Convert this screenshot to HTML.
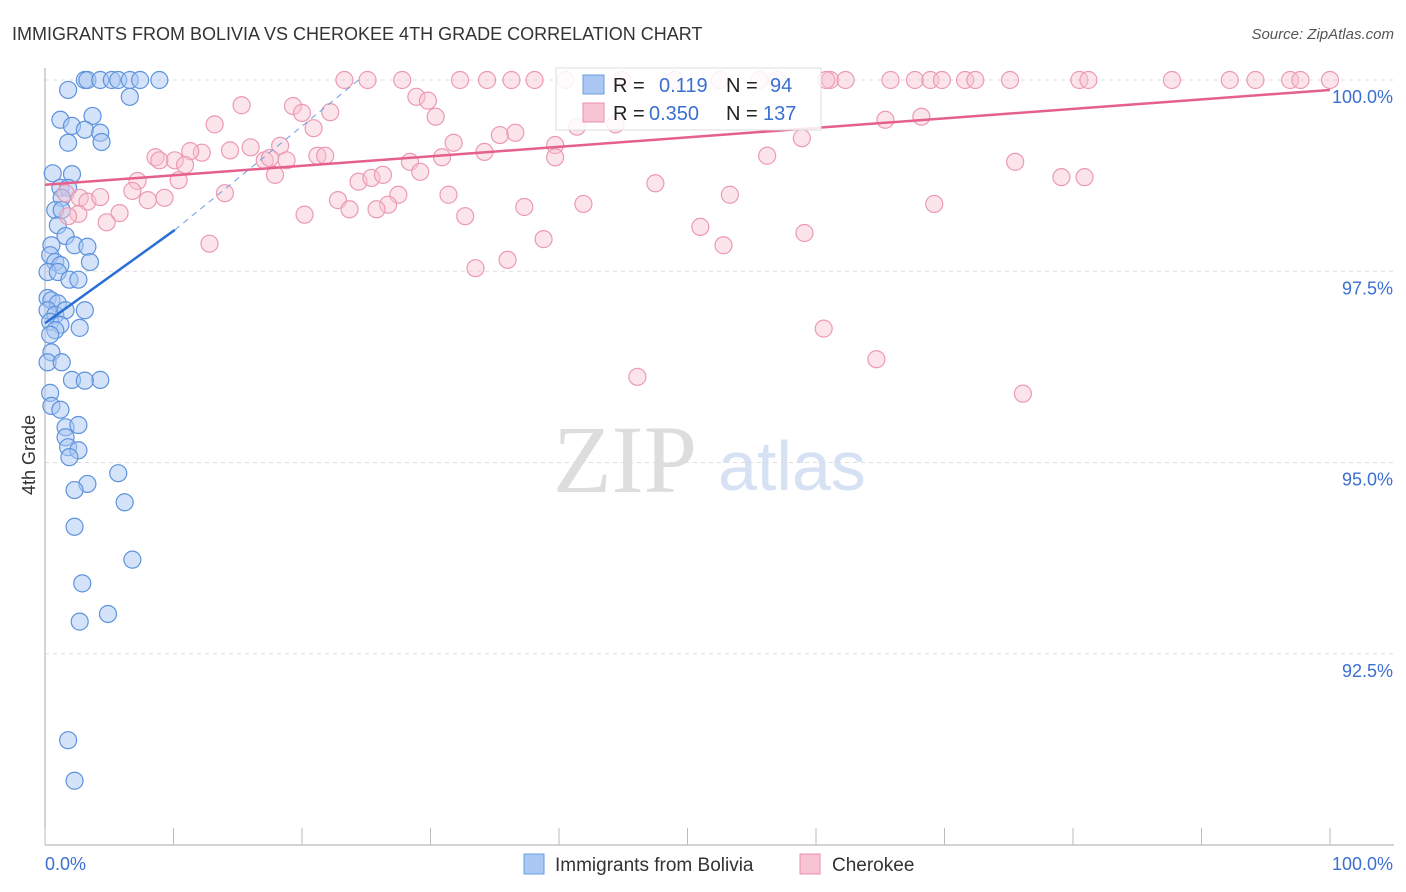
<!DOCTYPE html>
<html><head><meta charset="utf-8"><style>
body{margin:0;background:#fff;font-family:"Liberation Sans",sans-serif}
svg{display:block}
</style></head><body>
<svg id="chart" width="1406" height="892">
<text x="12" y="40" font-size="18" fill="#333">IMMIGRANTS FROM BOLIVIA VS CHEROKEE 4TH GRADE CORRELATION CHART</text>
<text x="1394" y="39" font-size="15" fill="#555" font-style="italic" text-anchor="end">Source: ZipAtlas.com</text>
<text x="35" y="455" font-size="18" fill="#333" transform="rotate(-90 35 455)" text-anchor="middle">4th Grade</text>
<g><text x="553" y="492" font-family="Liberation Serif,serif" font-size="96" fill="#ddd">ZIP</text><text x="718" y="490" font-size="70" fill="#d6e2f3">atlas</text></g>
<g id="grid"></g><g id="axes"></g><g id="pts"></g><g id="lines"></g>
<g>
<rect x="556" y="68" width="265" height="62" fill="#fff" fill-opacity="0.85" stroke="#ddd"/>
<rect x="583" y="75" width="21" height="19" fill="#aac8f3" stroke="#6b9de0"/>
<rect x="583" y="103" width="21" height="19" fill="#f8c3d3" stroke="#ec8fab"/>
<text x="613" y="92" font-size="20" fill="#222">R = </text><text x="659" y="92" font-size="20" fill="#3b6fd1">0.119</text><text x="726" y="92" font-size="20" fill="#222">N = </text><text x="770" y="92" font-size="20" fill="#3b6fd1">94</text>
<text x="613" y="120" font-size="20" fill="#222">R = </text><text x="649" y="120" font-size="20" fill="#3b6fd1">0.350</text><text x="726" y="120" font-size="20" fill="#222">N = </text><text x="763" y="120" font-size="20" fill="#3b6fd1">137</text>
</g>
<g>
<rect x="524" y="854" width="20" height="20" fill="#aac8f3" stroke="#6b9de0"/><text x="555" y="871" font-size="19" fill="#333">Immigrants from Bolivia</text>
<rect x="800" y="854" width="20" height="20" fill="#f8c3d3" stroke="#ec8fab"/><text x="832" y="871" font-size="19" fill="#333">Cherokee</text>
</g>
</svg>
<script>
const yTicks=[100,97.5,95,92.5];
const yTickLabels=["100.0%","97.5%","95.0%","92.5%"];
const xTickCount=10;
const blueX=[3.1,3.3,4.3,5.2,5.7,6.6,7.4,8.9,1.8,6.6,1.2,3.7,2.1,3.1,4.3,1.8,4.4,0.6,2.1,1.2,1.8,1.3,0.8,1.3,1.0,1.6,0.5,2.3,3.3,0.4,0.8,1.2,3.5,0.2,1.0,1.9,2.6,0.2,0.5,1.0,0.2,0.8,1.6,3.1,0.4,1.2,2.7,0.8,0.4,0.5,0.2,1.3,2.1,4.3,3.1,0.4,0.5,1.2,1.6,2.6,1.6,1.8,2.6,1.9,5.7,3.3,2.3,6.2,2.3,6.8,2.9,4.9,2.7,1.8,2.3];
const blueY=[100,100,100,100,100,100,100,100,99.87,99.78,99.48,99.53,99.40,99.35,99.31,99.18,99.19,98.78,98.77,98.59,98.59,98.46,98.30,98.30,98.10,97.96,97.84,97.84,97.82,97.71,97.62,97.58,97.62,97.49,97.49,97.39,97.39,97.15,97.12,97.08,96.99,96.93,96.99,96.99,96.84,96.80,96.76,96.73,96.67,96.44,96.31,96.31,96.08,96.08,96.07,95.91,95.74,95.69,95.46,95.49,95.33,95.20,95.16,95.07,94.86,94.72,94.64,94.48,94.16,93.73,93.42,93.02,92.92,91.37,90.84];
const pinkX=[23.3,25.1,27.8,32.3,34.4,36.3,38.1,40.5,44.9,49.0,52.5,55.6,57.0,61.1,62.3,65.8,67.7,68.9,69.8,71.6,72.4,75.1,80.5,81.2,87.7,92.2,94.2,96.9,97.7,100,60.8,15.3,19.3,20.0,22.2,28.9,29.8,30.4,13.2,20.9,35.4,36.6,41.4,44.4,18.3,31.8,34.2,39.7,58.9,65.4,68.2,8.6,10.1,12.2,11.3,14.4,16.0,17.1,17.5,18.8,21.2,21.8,30.9,39.7,56.2,28.4,10.9,17.9,10.4,8.9,7.2,1.6,2.7,3.3,4.3,2.6,1.8,5.8,4.8,6.8,8.0,9.3,14.0,22.8,24.4,25.4,26.3,27.5,29.2,31.4,26.7,20.2,23.7,25.8,32.7,37.3,41.9,47.5,53.3,69.2,75.5,79.1,80.9,51.0,59.1,38.8,12.8,52.8,36.0,33.5,60.6,64.7,46.1,76.1];
const pinkY=[100,100,100,100,100,100,100,100,100,100,100,100,100,100,100,100,100,100,100,100,100,100,100,100,100,100,100,100,100,100,100,99.67,99.66,99.57,99.58,99.78,99.73,99.52,99.42,99.37,99.28,99.31,99.39,99.42,99.14,99.18,99.06,99.15,99.24,99.48,99.52,98.99,98.95,99.05,99.07,99.08,99.12,98.95,98.98,98.95,99.01,99.01,98.99,98.99,99.01,98.93,98.89,98.76,98.69,98.95,98.68,98.52,98.46,98.41,98.47,98.25,98.22,98.26,98.14,98.55,98.43,98.46,98.52,98.43,98.67,98.72,98.76,98.50,98.80,98.50,98.37,98.24,98.31,98.31,98.22,98.34,98.38,98.65,98.50,98.38,98.93,98.73,98.73,98.08,98.00,97.92,97.86,97.84,97.65,97.54,96.75,96.35,96.12,95.90];
const pinkTrend=[[0,98.63],[100,99.87]];
const blueTrendSolid=[[0,96.82],[10.1,98.04]];
const blueTrendDash=[[10.1,98.04],[24.4,100]];
const NS="http://www.w3.org/2000/svg";
const xs=v=>45+v*12.85, ys=v=>80+(100-v)*76.5;
function mk(tag,attrs,parent){const e=document.createElementNS(NS,tag);for(const k in attrs)e.setAttribute(k,attrs[k]);document.getElementById(parent).appendChild(e);return e;}
yTicks.forEach((t,i)=>{
 const g=mk('line',{x1:45,x2:1394,y1:ys(t),y2:ys(t),stroke:'#ddd','stroke-dasharray':'4,4'},'grid');
 
 
 const l=mk('text',{x:1393,y:ys(t)+23,'font-size':18,fill:'#3b6fd1','text-anchor':'end'},'grid');
 l.textContent=yTickLabels[i];
 
 
});
const ax=mk('line',{x1:45,x2:45,y1:68,y2:845,stroke:'#aaa'},'axes');


const bx=mk('line',{x1:45,x2:1394,y1:845,y2:845,stroke:'#aaa'},'axes');


for(let i=0;i<=xTickCount;i++){const t=mk('line',{x1:xs(i*10),x2:xs(i*10),y1:828,y2:845,stroke:'#bbb'},'axes');
 
 }
[["0.0%",45,"start"],["100.0%",1393,"end"]].forEach(a=>{const t=mk('text',{x:a[1],y:870,'font-size':18,fill:'#3b6fd1','text-anchor':a[2]},'axes');t.textContent=a[0];
 
 });
blueX.forEach((x,i)=>{const c=mk('circle',{cx:xs(x),cy:ys(blueY[i]),r:8.5,fill:'#aac8f3','fill-opacity':0.5,stroke:'#5e93dc','stroke-width':1.2},'pts');
 
 });
pinkX.forEach((x,i)=>{const c=mk('circle',{cx:xs(x),cy:ys(pinkY[i]),r:8.5,fill:'#f8c3d3','fill-opacity':0.45,stroke:'#ec9ab3','stroke-width':1.2},'pts');
 
 });
const pl=mk('line',{x1:xs(pinkTrend[0][0]),y1:ys(pinkTrend[0][1]),x2:xs(pinkTrend[1][0]),y2:ys(pinkTrend[1][1]),stroke:'#e5608a','stroke-width':2.5},'lines');


const bl=mk('line',{x1:xs(blueTrendSolid[0][0]),y1:ys(blueTrendSolid[0][1]),x2:xs(blueTrendSolid[1][0]),y2:ys(blueTrendSolid[1][1]),stroke:'#2a6fd6','stroke-width':2.5},'lines');


const bd=mk('line',{x1:xs(blueTrendDash[0][0]),y1:ys(blueTrendDash[0][1]),x2:xs(blueTrendDash[1][0]),y2:ys(blueTrendDash[1][1]),stroke:'#6b9de0','stroke-width':1,'stroke-dasharray':'6,5'},'lines');


</script>
</body></html>
